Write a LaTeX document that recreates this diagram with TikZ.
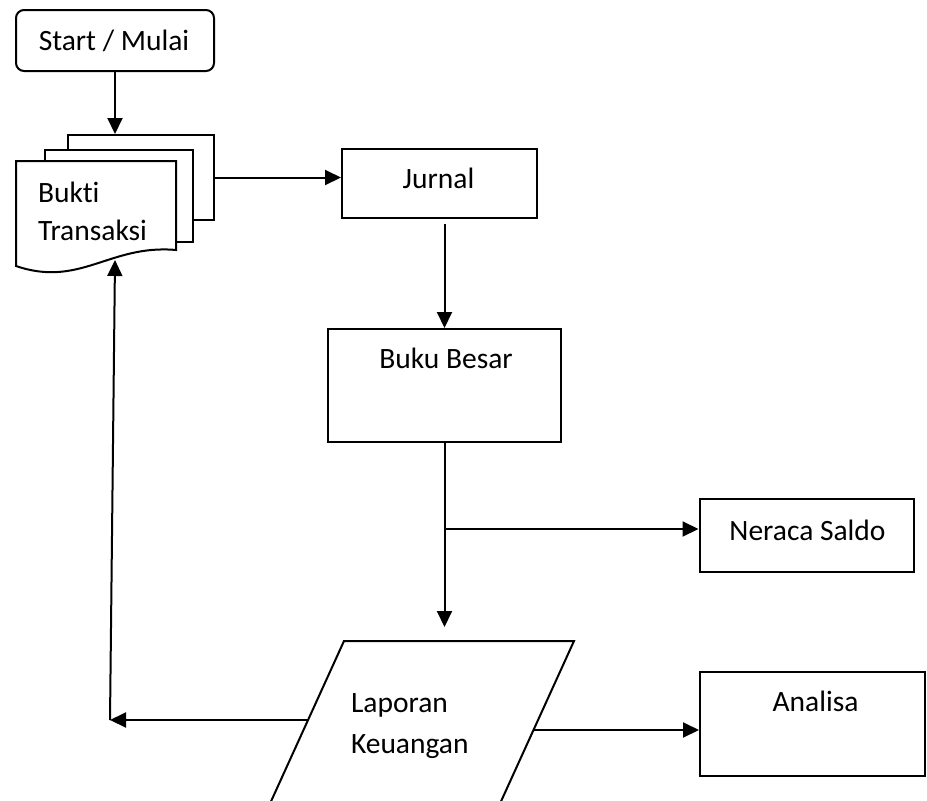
\documentclass[tikz,border=0pt]{standalone}
\usepackage{fontspec}
\setmainfont{Carlito}[Ligatures={NoCommon,NoContextual}]
\usetikzlibrary{arrows.meta,calc}

\begin{document}
\begin{tikzpicture}[x=1pt,y=-1pt,
  line width=2pt,
  every node/.style={font=\fontsize{29.5}{37}\selectfont},
  box/.style={draw,rectangle,inner sep=0pt,fill=white},
  sheet/.style={draw,fill=white,line join=miter},
  lbl/.style={inner sep=0pt,anchor=base},
  lbll/.style={inner sep=0pt,anchor=base west},
  flow/.style={-{Triangle[length=16pt,width=15pt]}}]

  \fill[white] (0,0) rectangle (927,801);
  \useasboundingbox (0,0) rectangle (927,801);

  % start terminator
  \node[box,rounded corners=8pt,minimum width=198pt,minimum height=61pt] (start) at (115,40.5) {};
  \node[lbl] (startt) at (114,50) {Start / Mulai};

  % stacked document: back, middle and front sheets
  \node[box,minimum width=146pt,minimum height=85pt] (back) at (141,177.5) {};
  \node[box,minimum width=148pt,minimum height=92pt] (mid) at (119,196) {};
  \draw[sheet] (16,161) -- (176,161) -- (176,250)
    .. controls (110,244) and (80,288) .. (16,266) -- cycle;
  \coordinate (docbot) at (115,260);
  \node[lbll] (bukti) at (37,202) {Bukti};
  \node[lbll] (transaksi) at (37,240) {Transaksi};

  % process boxes
  \node[box,minimum width=195pt,minimum height=69pt] (jurnal) at (439.5,183.5) {};
  \node[lbl] (jurnalt) at (438.5,188) {Jurnal};

  \node[box,minimum width=233pt,minimum height=113pt] (buku) at (444.5,385.5) {};
  \node[lbl] (bukut) at (446,368) {Buku Besar};

  \node[box,minimum width=214pt,minimum height=73pt] (neraca) at (806.5,535.5) {};
  \node[lbl] (neracat) at (807.5,540) {Neraca Saldo};

  \node[box,minimum width=225pt,minimum height=104pt] (analisa) at (812.5,724) {};
  \node[lbl] (analisat) at (815.5,711) {Analisa};

  % financial report (data parallelogram)
  \draw[line join=miter] (344,641) -- (574,641) -- (498,808) -- (268,808) -- cycle;
  \coordinate (laptop) at (444.5,641);
  \coordinate (lapL) at (308,720);
  \coordinate (lapR) at (534,730);
  \node[lbll] (laporan) at (350,712) {Laporan};
  \node[lbll] (keuangan) at (350,753) {Keuangan};

  % connectors
  \draw[flow] (start.south) -- (start.south |- back.north);
  \draw[flow] (back.east) -- (back.east -| jurnal.west);
  \draw[flow] ([yshift=-5pt]buku.north |- jurnal.south) -- (buku.north);
  \coordinate (split) at (444.5,529);
  \draw[flow] (buku.south) -- ([yshift=14pt]laptop);
  \draw[flow] (split) -- (split -| neraca.west);
  \coordinate (back1) at (110,720);
  \draw[flow] (lapL) -- (back1);
  \draw[flow] (back1) -- (docbot);
  \draw[flow] (lapR) -- (lapR -| analisa.west);
\end{tikzpicture}
\end{document}
